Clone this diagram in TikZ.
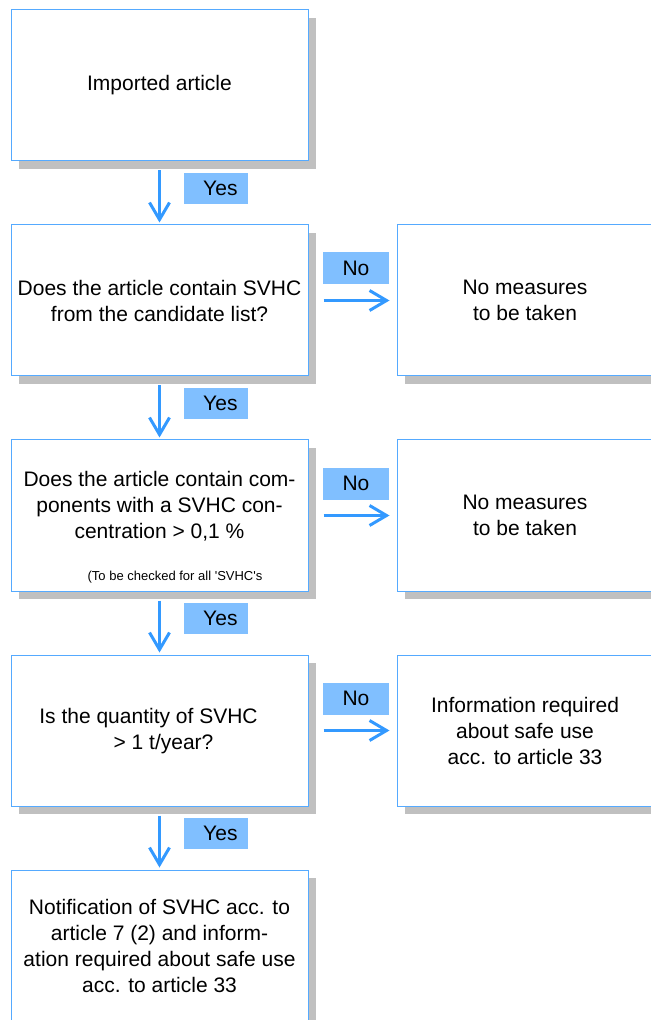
\documentclass[tikz,border=0pt]{standalone}
\usepackage{fontspec}
\setmainfont{Liberation Sans}
\usetikzlibrary{shapes,arrows.meta,shadows}
\definecolor{boxline}{RGB}{85,170,255}
\definecolor{arrowblue}{RGB}{51,153,255}
\definecolor{labelblue}{RGB}{128,191,255}
\definecolor{shadowgray}{RGB}{192,192,192}
\tikzstyle{question} = [rectangle, minimum width=148.5pt, minimum height=75.5pt, inner xsep=2pt, draw=boxline, line width=0.5pt, fill=white, align=center, font=\fontsize{10.5}{13}\selectfont, drop shadow={shadow xshift=4pt, shadow yshift=-4pt, fill=shadowgray, opacity=1}]
\tikzstyle{outcome} = [question, minimum width=128pt]
\tikzstyle{boxtext} = [align=center, inner sep=0pt, font=\fontsize{10.5}{13}\selectfont]
\tikzstyle{note} = [inner sep=0pt, font=\fontsize{6.5}{8}\selectfont]
\tikzstyle{yeslabel} = [fill=labelblue, minimum height=15.5pt, inner xsep=5pt, text width=22pt, align=right, font=\fontsize{10.5}{13}\selectfont]
\tikzstyle{nolabel} = [fill=labelblue, minimum width=33pt, minimum height=16pt, align=center, font=\fontsize{10.5}{13}\selectfont]
\tikzstyle{arrow} = [line width=1.5pt, draw=arrowblue, -{Straight Barb[length=8.5pt, width=10pt]}]

\begin{document}
\begin{tikzpicture}[node distance=107.5pt]

\useasboundingbox (0,0) rectangle (325.5pt,-510pt);
\clip (0,0) rectangle (325.5pt,-510pt);

\node (start) [question] at (79.75pt,-42.75pt) {Imported article};
\node (candidate) [question, below of=start] {Does the article contain SVHC\\from the candidate list?};
\node (concentration) [question, below of=candidate] {};
\node (quantity) [question, below of=concentration] {};
\node (notification) [question, below of=quantity] {Notification of SVHC acc. to\\article 7 (2) and inform-\\ation required about safe use\\acc. to article 33};

\node (concentrationtext) [boxtext] at ([yshift=4.5pt]concentration.center) {Does the article contain com-\\ponents with a SVHC con-\\centration > 0,1 \%};
\node (concentrationnote) [note] at ([xshift=7.75pt, yshift=7pt]concentration.south) {(To be checked for all \textquotesingle SVHC\textquotesingle s};
\node (quantitytext) [boxtext] at ([xshift=-5.5pt, yshift=-0.5pt]quantity.center) {Is the quantity of SVHC\\\hspace*{15pt}> 1 t/year?};

\node (nomeasures1) [outcome, right of=candidate, xshift=75.25pt] {No measures\\to be taken};
\node (nomeasures2) [outcome, right of=concentration, xshift=75.25pt] {No measures\\to be taken};
\node (safeuse) [outcome, right of=quantity, xshift=75.25pt] {Information required\\about safe use\\acc. to article 33};

\draw [arrow, shorten >=1pt] ([yshift=-4.5pt]start.south) -- node (yes1) [yeslabel, xshift=28pt, yshift=4.5pt] {Yes} (candidate.north);
\draw [arrow, shorten >=1pt] ([yshift=-4.5pt]candidate.south) -- node (yes2) [yeslabel, xshift=28pt, yshift=4.5pt] {Yes} (concentration.north);
\draw [arrow, shorten >=1pt] ([yshift=-4.5pt]concentration.south) -- node (yes3) [yeslabel, xshift=28pt, yshift=4.5pt] {Yes} (quantity.north);
\draw [arrow, shorten >=1pt] ([yshift=-4.5pt]quantity.south) -- node (yes4) [yeslabel, xshift=28pt, yshift=4.5pt] {Yes} (notification.north);

\draw [arrow, shorten >=3.5pt] ([xshift=7.5pt]candidate.east) -- node (no1) [nolabel, xshift=-2pt, yshift=16pt] {No} (nomeasures1.west);
\draw [arrow, shorten >=3.5pt] ([xshift=7.5pt]concentration.east) -- node (no2) [nolabel, xshift=-2pt, yshift=16pt] {No} (nomeasures2.west);
\draw [arrow, shorten >=3.5pt] ([xshift=7.5pt]quantity.east) -- node (no3) [nolabel, xshift=-2pt, yshift=16pt] {No} (safeuse.west);

\end{tikzpicture}
\end{document}
